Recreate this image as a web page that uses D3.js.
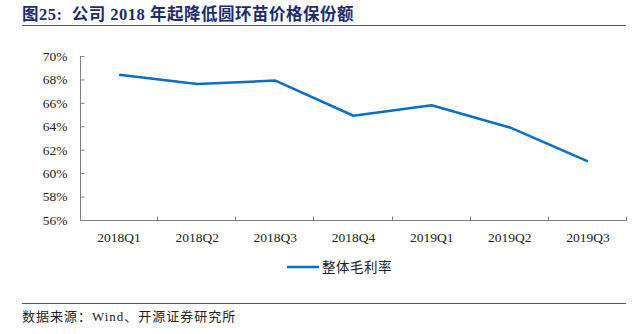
<!DOCTYPE html>
<html>
<head>
<meta charset="utf-8">
<script src="https://cdn.jsdelivr.net/npm/d3@7"></script>
<style>
  html, body { margin: 0; padding: 0; background: #fff; }
  svg { display: block; }
  svg text { font-family: "Liberation Serif", "Times New Roman", Times, "DejaVu Serif", "Noto Sans CJK SC", serif; }
</style>
</head>
<body>
<svg id="chart" width="643" height="334"></svg>
<script>
// Quarterly gross margin (%)
const quarters = ["2018Q1", "2018Q2", "2018Q3", "2018Q4", "2019Q1", "2019Q2", "2019Q3"];
const grossMargin = [68.4, 67.6, 67.9, 64.9, 65.8, 63.9, 61.0];
const yTicks = [56, 58, 60, 62, 64, 66, 68, 70];
const seriesName = "整体毛利率";
const titleText = "图25:  公司 2018 年起降低圆环苗价格保份额";
const sourceText = "数据来源：Wind、开源证券研究所";

const svg = d3.select("#chart");
const axisColor = "#808080";
const lineColor = "#0A6EC4";

// Title and rules
svg.append("text")
  .attr("x", 22).attr("y", 20)
  .attr("font-weight", "bold")
  .attr("font-size", 16.5)
  .attr("letter-spacing", 0.5)
  .attr("fill", "#1E2A6E")
  .attr("xml:space", "preserve")
  .style("white-space", "pre")
  .text(titleText);
svg.append("line")
  .attr("x1", 22).attr("x2", 626).attr("y1", 25.5).attr("y2", 25.5)
  .attr("stroke", "#555").attr("stroke-width", 1);
svg.append("line")
  .attr("x1", 22).attr("x2", 626).attr("y1", 303.5).attr("y2", 303.5)
  .attr("stroke", "#555").attr("stroke-width", 1);
svg.append("text")
  .attr("x", 22).attr("y", 321)
  .attr("font-size", 13)
  .attr("letter-spacing", 1)
  .attr("fill", "#222")
  .text(sourceText);

// Scales
const x = d3.scaleBand().domain(quarters).range([80, 627]);
const y = d3.scaleLinear().domain([56, 70]).range([220, 56]);

const g = svg.append("g");

// Y axis (ticks pointing inward)
const yAxis = g.append("g")
  .attr("transform", "translate(80.5,0)")
  .call(d3.axisRight(y).tickValues(yTicks).tickSize(4).tickFormat(d => d + "%"));
yAxis.select(".domain").attr("stroke", axisColor).attr("d", `M0,${y(70)}V${y(56)}`);
yAxis.selectAll(".tick line").attr("stroke", axisColor);
yAxis.selectAll(".tick text")
  .attr("x", -13)
  .attr("text-anchor", "end")
  .attr("font-size", 13.5)
  .attr("fill", "#222");

// X axis with tick marks at category boundaries, pointing up
const xAxis = g.append("g")
  .attr("transform", `translate(0,${y(56) + 0.5})`)
  .call(d3.axisBottom(x).tickSize(0).tickPadding(12));
xAxis.select(".domain").attr("stroke", axisColor).attr("d", `M80,0H${627}`);
xAxis.selectAll(".tick text")
  .attr("font-size", 13.5)
  .attr("fill", "#222")
  .attr("dy", "0.71em");
const bounds = quarters.map(q => x(q)).concat([x.range()[1]]);
xAxis.selectAll(".bound")
  .data(bounds.slice(1))
  .join("line")
  .attr("class", "bound")
  .attr("x1", d => Math.round(d) - 0.5).attr("x2", d => Math.round(d) - 0.5)
  .attr("y1", 0).attr("y2", -4)
  .attr("stroke", axisColor);

// Series line
const line = d3.line()
  .x((d, i) => x(quarters[i]) + x.bandwidth() / 2)
  .y(d => y(d));
g.append("path")
  .datum(grossMargin)
  .attr("d", line)
  .attr("fill", "none")
  .attr("stroke", lineColor)
  .attr("stroke-width", 2.5)
  .attr("stroke-linejoin", "round");

// Legend
const legend = svg.append("g").attr("transform", "translate(287,267)");
legend.append("line")
  .attr("x1", 0).attr("x2", 32).attr("y1", 0).attr("y2", 0)
  .attr("stroke", lineColor).attr("stroke-width", 2.5);
legend.append("text")
  .attr("x", 35).attr("y", 5)
  .attr("font-size", 13.5)
  .attr("letter-spacing", 0.5)
  .attr("fill", "#222")
  .text(seriesName);

// d3 axes set their own font-family on the group; let the stylesheet decide
g.selectAll("g").attr("font-family", null);
</script>
</body>
</html>
